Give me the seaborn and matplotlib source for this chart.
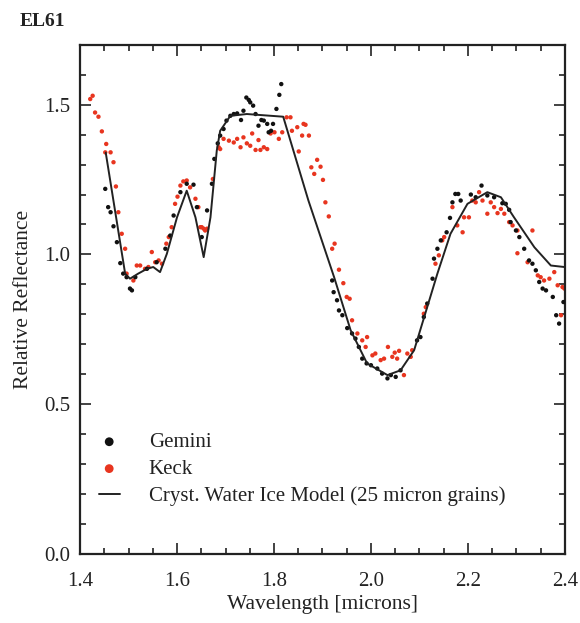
import matplotlib
matplotlib.use("Agg")
import matplotlib.pyplot as plt
import seaborn as sns
import pandas as pd
from matplotlib.ticker import MultipleLocator

# Gemini spectrum
gemini_x = [1.452, 1.458, 1.463, 1.469, 1.476, 1.483, 1.489, 1.496, 1.503, 1.507,
            1.514, 1.538, 1.558, 1.576, 1.586, 1.593, 1.607, 1.620, 1.634, 1.641,
            1.651, 1.662, 1.672, 1.677, 1.684, 1.689, 1.696, 1.702, 1.710, 1.717,
            1.724, 1.732, 1.737, 1.743, 1.748, 1.751, 1.757, 1.762, 1.768, 1.774,
            1.779, 1.786, 1.789, 1.794, 1.798, 1.805, 1.811, 1.815,
            1.920, 1.923, 1.930, 1.934, 1.941, 1.951, 1.961, 1.968, 1.975, 1.982,
            1.991, 2.000, 2.013, 2.023, 2.034, 2.041, 2.051, 2.061, 2.095, 2.102,
            2.109, 2.116, 2.127, 2.130, 2.137, 2.144, 2.156, 2.163, 2.168, 2.174,
            2.180, 2.185, 2.206, 2.216, 2.228, 2.240, 2.254, 2.271, 2.278, 2.285,
            2.288, 2.299, 2.306, 2.316, 2.326, 2.333, 2.340, 2.347, 2.354, 2.361,
            2.375, 2.382, 2.388, 2.397]
gemini_y = [1.219, 1.158, 1.141, 1.094, 1.041, 0.971, 0.936, 0.924, 0.886, 0.880,
            0.924, 0.952, 0.974, 1.019, 1.063, 1.130, 1.208, 1.236, 1.233, 1.158,
            1.058, 1.147, 1.236, 1.319, 1.371, 1.397, 1.419, 1.447, 1.463, 1.469,
            1.471, 1.449, 1.480, 1.524, 1.516, 1.508, 1.497, 1.469, 1.430, 1.449,
            1.447, 1.436, 1.408, 1.413, 1.436, 1.486, 1.533, 1.569,
            0.913, 0.874, 0.847, 0.813, 0.797, 0.754, 0.736, 0.719, 0.691, 0.652,
            0.636, 0.630, 0.619, 0.602, 0.586, 0.597, 0.591, 0.613, 0.713, 0.724,
            0.791, 0.836, 0.919, 0.986, 1.019, 1.047, 1.074, 1.122, 1.174, 1.202,
            1.202, 1.180, 1.200, 1.191, 1.230, 1.197, 1.191, 1.171, 1.169, 1.149,
            1.108, 1.080, 1.058, 1.019, 0.980, 0.969, 0.947, 0.908, 0.886, 0.880,
            0.858, 0.797, 0.769, 0.841]

# Keck spectrum
keck_x = [1.421, 1.426, 1.431, 1.438, 1.445, 1.452, 1.454, 1.463, 1.469, 1.474,
          1.479, 1.486, 1.493, 1.496, 1.510, 1.517, 1.524, 1.534, 1.541, 1.548,
          1.555, 1.562, 1.569, 1.578, 1.583, 1.589, 1.596, 1.601, 1.607, 1.613,
          1.620, 1.627, 1.638, 1.644, 1.648, 1.651, 1.655, 1.658, 1.662, 1.674,
          1.686, 1.689, 1.696, 1.707, 1.717, 1.724, 1.731, 1.737, 1.744, 1.751,
          1.755, 1.762, 1.768, 1.772, 1.779, 1.786, 1.793, 1.801, 1.810, 1.817,
          1.826, 1.834, 1.837, 1.848, 1.851, 1.858, 1.861, 1.865, 1.872, 1.877,
          1.883, 1.889, 1.896, 1.901, 1.906, 1.913, 1.920, 1.925, 1.934, 1.943,
          1.950, 1.956, 1.961, 1.972, 1.982, 1.989, 1.992, 2.003, 2.009, 2.020,
          2.027, 2.035, 2.044, 2.049, 2.054, 2.058, 2.068, 2.075, 2.082, 2.085,
          2.109, 2.113, 2.133, 2.140, 2.147, 2.151, 2.168, 2.178, 2.189, 2.192,
          2.202, 2.209, 2.216, 2.223, 2.230, 2.240, 2.247, 2.254, 2.261, 2.268,
          2.275, 2.285, 2.292, 2.302, 2.302, 2.323, 2.333, 2.344, 2.350, 2.357,
          2.368, 2.378, 2.385, 2.392, 2.395, 2.399]
keck_y = [1.519, 1.530, 1.474, 1.460, 1.411, 1.341, 1.369, 1.341, 1.308, 1.227,
          1.141, 1.069, 1.019, 0.936, 0.913, 0.963, 0.963, 0.952, 0.958, 1.008,
          0.974, 0.980, 0.969, 1.036, 1.058, 1.091, 1.169, 1.193, 1.230, 1.244,
          1.247, 1.224, 1.186, 1.158, 1.091, 1.091, 1.086, 1.080, 1.086, 1.252,
          1.358, 1.352, 1.386, 1.380, 1.374, 1.386, 1.358, 1.391, 1.371, 1.363,
          1.404, 1.349, 1.382, 1.349, 1.358, 1.352, 1.404, 1.408, 1.386, 1.408,
          1.458, 1.458, 1.413, 1.425, 1.344, 1.397, 1.436, 1.433, 1.397, 1.291,
          1.269, 1.316, 1.293, 1.249, 1.174, 1.127, 1.019, 1.036, 0.949, 0.904,
          0.858, 0.852, 0.780, 0.736, 0.713, 0.691, 0.724, 0.663, 0.669, 0.647,
          0.652, 0.691, 0.658, 0.672, 0.652, 0.678, 0.597, 0.669, 0.658, 0.680,
          0.802, 0.824, 0.969, 0.997, 1.047, 1.058, 1.158, 1.097, 1.074, 1.124,
          1.124, 1.180, 1.174, 1.208, 1.180, 1.136, 1.174, 1.158, 1.138, 1.152,
          1.136, 1.108, 1.097, 1.080, 1.004, 0.974, 1.080, 0.930, 0.924, 0.913,
          0.919, 0.941, 0.897, 0.797, 0.891, 0.886]

# crystalline water ice model
model_x = [1.453, 1.493, 1.503, 1.520, 1.538, 1.551, 1.565, 1.579, 1.600, 1.620,
           1.638, 1.655, 1.669, 1.682, 1.689, 1.710, 1.744, 1.819, 1.871, 1.924,
           1.958, 1.992, 2.034, 2.061, 2.089, 2.116, 2.137, 2.164, 2.199, 2.240,
           2.268, 2.295, 2.337, 2.371, 2.399]
model_y = [1.340, 0.936, 0.919, 0.936, 0.952, 0.958, 0.941, 1.002, 1.124, 1.213,
           1.124, 0.991, 1.124, 1.347, 1.413, 1.463, 1.469, 1.460, 1.180, 0.924,
           0.747, 0.636, 0.597, 0.613, 0.680, 0.824, 0.936, 1.069, 1.169, 1.208,
           1.191, 1.124, 1.024, 0.963, 0.958]

gemini = pd.DataFrame({"wl": gemini_x, "refl": gemini_y})
keck = pd.DataFrame({"wl": keck_x, "refl": keck_y})
model = pd.DataFrame({"wl": model_x, "refl": model_y})

sns.set_style("ticks")
plt.rcParams["font.family"] = ["Liberation Serif", "DejaVu Serif"]
plt.rcParams["xtick.direction"] = "in"
plt.rcParams["ytick.direction"] = "in"

fig = plt.figure(figsize=(5.8, 6.23), dpi=100)
ax = fig.add_axes([0.138, 0.111, 0.836, 0.817])

sns.scatterplot(data=gemini, x="wl", y="refl", ax=ax, color="#111111", s=10,
                edgecolor="none", label="Gemini", zorder=3)
sns.scatterplot(data=keck, x="wl", y="refl", ax=ax, color="#e8351f", s=10,
                edgecolor="none", label="Keck", zorder=2)
sns.lineplot(data=model, x="wl", y="refl", ax=ax, color="#222222", linewidth=1.4,
             label="Cryst. Water Ice Model (25 micron grains)", sort=False, zorder=4)

ax.set_xlim(1.4, 2.4)
ax.set_ylim(0.0, 1.7)
ax.xaxis.set_major_locator(MultipleLocator(0.2))
ax.xaxis.set_minor_locator(MultipleLocator(0.05))
ax.yaxis.set_major_locator(MultipleLocator(0.5))
ax.yaxis.set_minor_locator(MultipleLocator(0.1))
ax.xaxis.set_major_formatter(plt.FuncFormatter(lambda v, p: f"{v:.1f}"))
ax.yaxis.set_major_formatter(plt.FuncFormatter(lambda v, p: f"{v:.1f}"))
ax.tick_params(which="both", top=True, right=True, direction="in",
               labelsize=15, colors="#222222", width=1.2)
ax.tick_params(which="major", length=8)
ax.tick_params(axis="x", which="major", pad=13)
ax.tick_params(axis="y", which="major", pad=7)
ax.tick_params(which="minor", length=4)
for sp in ax.spines.values():
    sp.set_linewidth(1.6)
    sp.set_color("#222222")

ax.set_xlabel("Wavelength [microns]", fontsize=15.5, color="#222222", labelpad=3)
ax.set_ylabel("Relative Reflectance", fontsize=15.5, color="#222222", labelpad=8)

leg = ax.legend(loc="upper left", bbox_to_anchor=(0.0, 0.275), frameon=False,
                fontsize=15, handlelength=1.0, handletextpad=1.4,
                labelspacing=0.35, markerscale=2.0)
for t in leg.get_texts():
    t.set_color("#222222")

fig.text(0.034, 0.965, "EL61", fontsize=14, fontweight="bold", color="#222222",
         ha="left", va="center")

fig.savefig("out.png", dpi=100)
plt.close(fig)
